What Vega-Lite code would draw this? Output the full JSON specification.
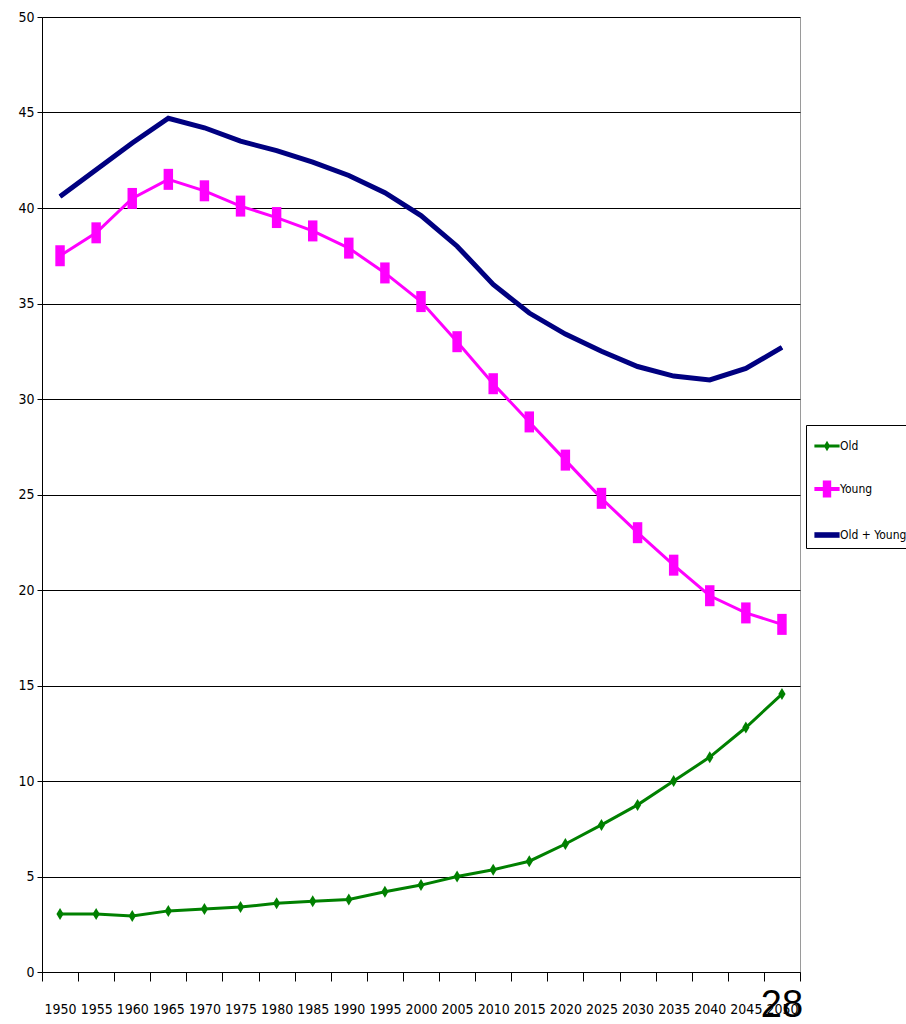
{
  "$schema": "https://vega.github.io/schema/vega-lite/v6.json",
  "width": 758,
  "height": 955,
  "autosize": {"type": "none"},
  "padding": {"left": 42, "top": 17, "right": 106, "bottom": 52},
  "background": "white",
  "config": {
    "view": {"stroke": "#9a9a9a", "strokeWidth": 1},
    "font": "DejaVu Sans Condensed, sans-serif",
    "axis": {"labelFont": "DejaVu Sans Condensed, sans-serif", "labelColor": "black"},
    "legend": {"labelFont": "DejaVu Sans Condensed, sans-serif", "labelColor": "black"}
  },
  "data": {
    "values": [
      {"year": 1950, "series": "Old", "value": 3.04},
      {"year": 1955, "series": "Old", "value": 3.04},
      {"year": 1960, "series": "Old", "value": 2.93},
      {"year": 1965, "series": "Old", "value": 3.2},
      {"year": 1970, "series": "Old", "value": 3.3},
      {"year": 1975, "series": "Old", "value": 3.4},
      {"year": 1980, "series": "Old", "value": 3.6},
      {"year": 1985, "series": "Old", "value": 3.7},
      {"year": 1990, "series": "Old", "value": 3.8},
      {"year": 1995, "series": "Old", "value": 4.2},
      {"year": 2000, "series": "Old", "value": 4.55},
      {"year": 2005, "series": "Old", "value": 5.0},
      {"year": 2010, "series": "Old", "value": 5.35},
      {"year": 2015, "series": "Old", "value": 5.8},
      {"year": 2020, "series": "Old", "value": 6.7},
      {"year": 2025, "series": "Old", "value": 7.7},
      {"year": 2030, "series": "Old", "value": 8.75},
      {"year": 2035, "series": "Old", "value": 10.0},
      {"year": 2040, "series": "Old", "value": 11.25},
      {"year": 2045, "series": "Old", "value": 12.8},
      {"year": 2050, "series": "Old", "value": 14.55},
      {"year": 1950, "series": "Young", "value": 37.5},
      {"year": 1955, "series": "Young", "value": 38.7},
      {"year": 1960, "series": "Young", "value": 40.5},
      {"year": 1965, "series": "Young", "value": 41.5},
      {"year": 1970, "series": "Young", "value": 40.9},
      {"year": 1975, "series": "Young", "value": 40.1},
      {"year": 1980, "series": "Young", "value": 39.5},
      {"year": 1985, "series": "Young", "value": 38.8},
      {"year": 1990, "series": "Young", "value": 37.9},
      {"year": 1995, "series": "Young", "value": 36.6},
      {"year": 2000, "series": "Young", "value": 35.1},
      {"year": 2005, "series": "Young", "value": 33.0},
      {"year": 2010, "series": "Young", "value": 30.8},
      {"year": 2015, "series": "Young", "value": 28.8},
      {"year": 2020, "series": "Young", "value": 26.8},
      {"year": 2025, "series": "Young", "value": 24.8},
      {"year": 2030, "series": "Young", "value": 23.0},
      {"year": 2035, "series": "Young", "value": 21.3},
      {"year": 2040, "series": "Young", "value": 19.7},
      {"year": 2045, "series": "Young", "value": 18.8},
      {"year": 2050, "series": "Young", "value": 18.2},
      {"year": 1950, "series": "Old + Young", "value": 40.6},
      {"year": 1955, "series": "Old + Young", "value": 42.0},
      {"year": 1960, "series": "Old + Young", "value": 43.4},
      {"year": 1965, "series": "Old + Young", "value": 44.7},
      {"year": 1970, "series": "Old + Young", "value": 44.2},
      {"year": 1975, "series": "Old + Young", "value": 43.5},
      {"year": 1980, "series": "Old + Young", "value": 43.0},
      {"year": 1985, "series": "Old + Young", "value": 42.4},
      {"year": 1990, "series": "Old + Young", "value": 41.7},
      {"year": 1995, "series": "Old + Young", "value": 40.8},
      {"year": 2000, "series": "Old + Young", "value": 39.6},
      {"year": 2005, "series": "Old + Young", "value": 38.0},
      {"year": 2010, "series": "Old + Young", "value": 36.0},
      {"year": 2015, "series": "Old + Young", "value": 34.5},
      {"year": 2020, "series": "Old + Young", "value": 33.4},
      {"year": 2025, "series": "Old + Young", "value": 32.5},
      {"year": 2030, "series": "Old + Young", "value": 31.7},
      {"year": 2035, "series": "Old + Young", "value": 31.2},
      {"year": 2040, "series": "Old + Young", "value": 31.0},
      {"year": 2045, "series": "Old + Young", "value": 31.6},
      {"year": 2050, "series": "Old + Young", "value": 32.7}
    ]
  },
  "encoding": {
    "x": {
      "field": "year",
      "type": "ordinal",
      "bandPosition": 0.5,
      "scale": {"type": "band", "paddingInner": 0, "paddingOuter": 0},
      "axis": {
        "title": null,
        "labelAngle": 0,
        "tickBand": "extent",
        "domainColor": "black",
        "tickColor": "black",
        "tickSize": 9,
        "labelFontSize": 14,
        "labelPadding": 21,
        "grid": false
      }
    },
    "y": {
      "field": "value",
      "type": "quantitative",
      "scale": {"domain": [0, 50], "nice": false, "zero": true},
      "axis": {
        "title": null,
        "values": [0, 5, 10, 15, 20, 25, 30, 35, 40, 45, 50],
        "grid": true,
        "gridColor": "black",
        "gridOpacity": 1,
        "gridWidth": 1,
        "domainColor": "black",
        "tickColor": "black",
        "tickSize": 5,
        "labelFontSize": 14,
        "labelPadding": 3
      }
    }
  },
  "layer": [
    {
      "mark": {"type": "line", "strokeWidth": 3},
      "encoding": {
        "color": {
          "field": "series",
          "type": "nominal",
          "scale": {"domain": ["Old", "Young", "Old + Young"], "range": ["#008000", "#FF00FF", "#000080"]},
          "legend": {
            "title": null,
            "orient": "none",
            "legendX": 764,
            "legendY": 408,
            "strokeColor": "black",
            "fillColor": "white",
            "padding": 7,
            "labelFontSize": 12,
            "labelOffset": -1,
            "rowPadding": 23,
            "symbolSize": 784,
            "symbolStrokeWidth": 0,
            "encode": {
              "symbols": {
                "update": {
                  "shape": {"signal": "datum.value === 'Old' ? 'M-0.9,-0.11L0.9,-0.11L0.9,0.11L-0.9,0.11Z M0,-0.38L0.22,0L0,0.38L-0.22,0Z' : datum.value === 'Young' ? 'M-0.9,-0.15L0.9,-0.15L0.9,0.15L-0.9,0.15Z M-0.3,-0.6L0.3,-0.6L0.3,0.6L-0.3,0.6Z' : 'M-0.9,-0.2L0.9,-0.2L0.9,0.2L-0.9,0.2Z'"},
                  "fill": {"scale": "color", "field": "value"},
                  "fillOpacity": {"value": 1},
                  "strokeWidth": {"value": 0}
                }
              }
            }
          }
        }
      }
    },
    {
      "transform": [{"filter": "datum.series === 'Old + Young'"}],
      "mark": {"type": "line", "strokeWidth": 5, "color": "#000080"}
    },
    {
      "transform": [{"filter": "datum.series === 'Young'"}],
      "mark": {"type": "point", "filled": true, "opacity": 1, "color": "#FF00FF", "shape": "M-0.45,-1L0.45,-1L0.45,1L-0.45,1Z", "size": 441}
    },
    {
      "transform": [{"filter": "datum.series === 'Old'"}],
      "mark": {"type": "point", "filled": true, "opacity": 1, "color": "#008000", "shape": "M0,-1L0.6,0L0,1L-0.6,0Z", "size": 144}
    },
    {
      "data": {"values": [{"page": "28", "year": 2050, "pos": -1.8}]},
      "mark": {"type": "text", "fontSize": 38, "font": "Liberation Sans, Arial, sans-serif", "color": "black", "baseline": "middle", "align": "center"},
      "encoding": {
        "text": {"field": "page"},
        "x": {"field": "year", "type": "ordinal", "bandPosition": 0.5},
        "y": {"field": "pos", "type": "quantitative"}
      }
    }
  ]
}
